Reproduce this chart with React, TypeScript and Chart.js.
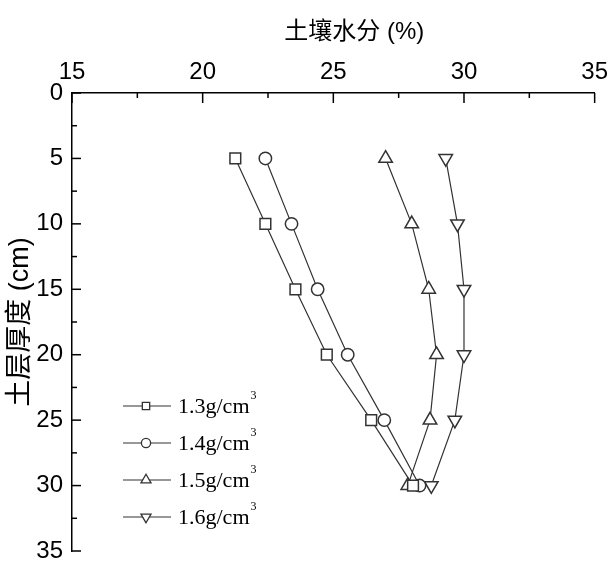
import React, { useEffect, useRef } from "react";
import { Chart, registerables } from "chart.js";
import { drawPoint } from "chart.js/helpers";

Chart.register(...registerables);

const DEPTHS = [5, 10, 15, 20, 25, 30];
const MOISTURE_13 = [21.25, 22.4, 23.55, 24.75, 26.45, 28.05];
const MOISTURE_14 = [22.4, 23.4, 24.4, 25.55, 26.95, 28.3];
const MOISTURE_15 = [27.0, 28.0, 28.65, 28.95, 28.7, 27.85];
const MOISTURE_16 = [29.3, 29.75, 30.0, 30.0, 29.65, 28.75];
const LABELS = ["1.3g/cm³", "1.4g/cm³", "1.5g/cm³", "1.6g/cm³"];
const X_TITLE = "土壤水分 (%)";
const Y_TITLE = "土层厚度 (cm)";

const SANS = '"Liberation Sans", Arial, "Noto Sans CJK SC", sans-serif';
const SERIF = '"Liberation Serif", "DejaVu Serif", serif';
const INK = "#333";

const STYLES = [
  { pointStyle: "rect", rotation: 0, radius: 7.6, legendRadius: 5.2 },
  { pointStyle: "circle", rotation: 0, radius: 6.2, legendRadius: 4.6 },
  { pointStyle: "triangle", rotation: 0, radius: 7.8, legendRadius: 5.8 },
  { pointStyle: "triangle", rotation: 180, radius: 7.8, legendRadius: 5.8 },
];

const SERIES = [MOISTURE_13, MOISTURE_14, MOISTURE_15, MOISTURE_16];

const inwardTicks = {
  id: "inwardTicks",
  afterDraw(chart: any) {
    const { ctx, chartArea } = chart;
    const xs = chart.scales.x;
    const ys = chart.scales.y;
    ctx.save();
    ctx.strokeStyle = "#000";
    ctx.lineWidth = 1.5;
    for (let v = 15; v <= 35 + 1e-9; v += 2.5) {
      const px = xs.getPixelForValue(v);
      const len = Math.abs(v % 5) < 1e-9 ? 10 : 5;
      ctx.beginPath();
      ctx.moveTo(px, chartArea.top);
      ctx.lineTo(px, chartArea.top + len);
      ctx.stroke();
    }
    for (let v = 0; v <= 35 + 1e-9; v += 2.5) {
      const py = ys.getPixelForValue(v);
      const len = Math.abs(v % 5) < 1e-9 ? 9 : 5;
      ctx.beginPath();
      ctx.moveTo(chartArea.left, py);
      ctx.lineTo(chartArea.left + len, py);
      ctx.stroke();
    }
    ctx.restore();
  },
};

const topTitle = {
  id: "topTitle",
  afterDraw(chart: any) {
    const { ctx, chartArea } = chart;
    ctx.save();
    ctx.fillStyle = "#000";
    ctx.font = `24px ${SANS}`;
    ctx.textAlign = "center";
    ctx.textBaseline = "middle";
    ctx.fillText(X_TITLE, (chartArea.left + chartArea.right) / 2 + 21, 32);
    ctx.restore();
  },
};

const customLegend = {
  id: "customLegend",
  afterDraw(chart: any) {
    const { ctx, chartArea } = chart;
    const x0 = chartArea.left + 51;
    const y0 = chartArea.top + 313;
    const rowH = 37;
    ctx.save();
    chart.data.datasets.forEach((ds: any, i: number) => {
      const y = y0 + i * rowH;
      const st = STYLES[i];
      ctx.strokeStyle = INK;
      ctx.lineWidth = 1.2;
      ctx.beginPath();
      ctx.moveTo(x0, y);
      ctx.lineTo(x0 + 48, y);
      ctx.stroke();
      ctx.fillStyle = "#fff";
      ctx.strokeStyle = INK;
      ctx.lineWidth = 1.3;
      drawPoint(
        ctx,
        { pointStyle: st.pointStyle, rotation: st.rotation, radius: st.legendRadius, borderWidth: 1.3 } as any,
        x0 + 23,
        y
      );
      const label: string = ds.label;
      const parts = label.split("³");
      ctx.fillStyle = "#000";
      ctx.textBaseline = "middle";
      ctx.textAlign = "left";
      ctx.font = `22px ${SERIF}`;
      const tx = x0 + 55;
      ctx.fillText(parts[0], tx, y + 1);
      const w = ctx.measureText(parts[0]).width;
      if (label.includes("³")) {
        ctx.font = `12px ${SERIF}`;
        ctx.fillText("3", tx + w + 1, y - 10);
      }
    });
    ctx.restore();
  },
};

export default function App() {
  const ref = useRef<HTMLCanvasElement | null>(null);
  useEffect(() => {
    if (!ref.current) return;
    const datasets = SERIES.map((vals, i) => ({
      label: LABELS[i],
      data: vals.map((v, j) => ({ x: v, y: DEPTHS[j] })),
      showLine: true,
      borderColor: INK,
      borderWidth: 1.2,
      pointStyle: STYLES[i].pointStyle as any,
      rotation: STYLES[i].rotation,
      pointRadius: STYLES[i].radius,
      pointBorderWidth: 1.5,
      pointBorderColor: INK,
      pointBackgroundColor: "#fff",
    }));
    const chart = new Chart(ref.current, {
      type: "scatter",
      data: { datasets },
      plugins: [inwardTicks, topTitle, customLegend],
      options: {
        responsive: false,
        animation: false,
        layout: { padding: { left: 0, top: 0, right: 17, bottom: 17 } },
        plugins: { legend: { display: false }, tooltip: { enabled: false } },
        scales: {
          x: {
            type: "linear",
            position: "top",
            min: 15,
            max: 35,
            ticks: {
              stepSize: 5,
              color: "#000",
              padding: 6,
              font: { family: SANS, size: 24 },
            },
            grid: { display: false, drawTicks: false },
            border: { display: true, color: "#000", width: 1.5 },
            title: { display: false },
            afterFit(scale: any) {
              scale.height = 93;
            },
          },
          y: {
            type: "linear",
            reverse: true,
            min: 0,
            max: 35,
            ticks: {
              stepSize: 5,
              color: "#000",
              padding: 9,
              font: { family: SANS, size: 24, lineHeight: 0.6 },
            },
            grid: { display: false, drawTicks: false },
            border: { display: true, color: "#000", width: 1.5 },
            title: {
              display: true,
              text: Y_TITLE,
              color: "#000",
              font: { family: SANS, size: 27 },
              padding: { top: 4, bottom: 0 },
            },
            afterFit(scale: any) {
              scale.width = 72;
            },
          },
        },
      },
    });
    return () => chart.destroy();
  }, []);
  return (
    <div style={{ position: "absolute", left: 0, top: 0, width: 614, height: 568, background: "#fff" }}>
      <canvas ref={ref} width={614} height={568} style={{ display: "block" }} />
    </div>
  );
}
